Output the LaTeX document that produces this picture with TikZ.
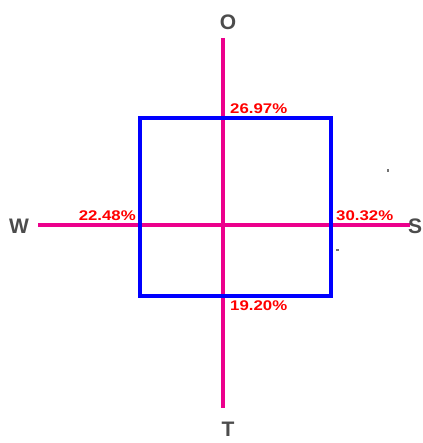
\documentclass[tikz,border=0pt]{standalone}
\usepackage{fontspec}
\setmainfont{Liberation Sans}
\begin{document}
\begin{tikzpicture}[x=1pt,y=-1pt,
  axis/.style={draw=magenta, line width=3.4pt},
  frame/.style={draw=blue, line width=3.4pt},
  pct/.style={text=red, font=\bfseries\fontsize{14}{16}\selectfont, inner sep=0pt, xscale=1.2},
  dir/.style={text=black!70, font=\bfseries\fontsize{21}{24}\selectfont, inner sep=0pt},
  speck/.style={fill=black!55, draw=none}]
\useasboundingbox (0,0) rectangle (422,443);
\coordinate (otop) at (223,38);
\coordinate (obot) at (223,408);
\coordinate (wl) at (38,225);
\coordinate (sr) at (410,225);
\draw[axis] (otop) -- (obot);
\draw[axis] (wl) -- (sr);
\draw[frame] (140,118) rectangle (331,296);
\node[dir] (O) at (228,22) {O};
\node[dir] (W) at (19,226) {W};
\node[dir] (S) at (415,226) {S};
\node[dir] (T) at (228,429) {T};
\node[pct, anchor=south west] (ptop) at (230,114) {26.97\%};
\node[pct, anchor=south east] (pleft) at (136,221) {22.48\%};
\node[pct, anchor=south west] (pright) at (336,221) {30.32\%};
\node[pct, anchor=north west] (pbot) at (230,301) {19.20\%};
\fill[speck] (387,169) rectangle (389,172);
\fill[speck] (336,249) rectangle (339,251);
\end{tikzpicture}
\end{document}
